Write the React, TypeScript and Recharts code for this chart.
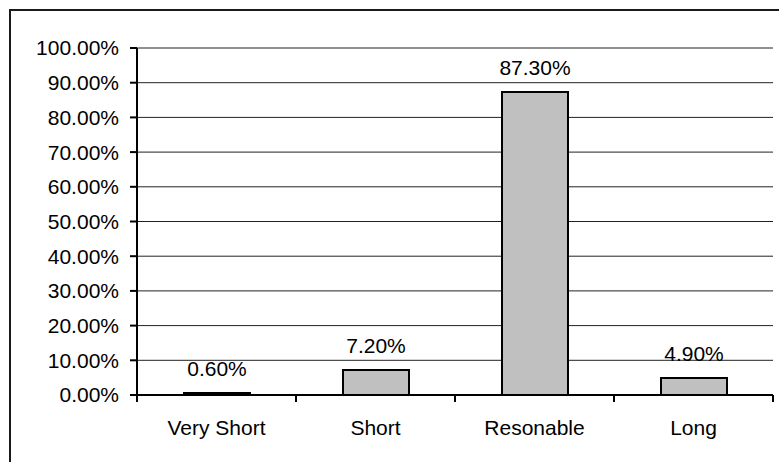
import { Bar, BarChart, CartesianGrid, LabelList, XAxis, YAxis } from 'recharts';

const categories = ['Very Short', 'Short', 'Resonable', 'Long'];
const shares = [0.6, 7.2, 87.3, 4.9];
const yTicks = [0, 10, 20, 30, 40, 50, 60, 70, 80, 90, 100];

const data = categories.map((name, i) => ({ name, value: shares[i] }));

const fontFamily = '"Liberation Sans", Arial, sans-serif';
const pct = (v: number | string) => `${Number(v).toFixed(2)}%`;

// Excel-style category axis: tick marks sit between categories, label centered
const CategoryTick = (props: any) => {
    const { x, y, payload, index } = props;
    const half = payload?.offset ?? 0;
    const last = index === categories.length - 1;
    return (
        <g>
            <line x1={x - half} x2={x - half} y1={y} y2={y + 7} stroke="#000" strokeWidth={2} />
            {last && (
                <line x1={x + half} x2={x + half} y1={y} y2={y + 7} stroke="#000" strokeWidth={2} />
            )}
            <text x={x} y={y + 40} textAnchor="middle" fill="#000" fontSize={21}>
                {payload.value}
            </text>
        </g>
    );
};

export default function App() {
    return (
        <div
            style={{
                position: 'absolute',
                left: 0,
                top: 0,
                width: 779,
                height: 462,
                overflow: 'hidden',
                background: '#fff',
                fontFamily,
            }}
        >
            <div
                style={{
                    position: 'absolute',
                    left: 9,
                    top: 9,
                    width: 800,
                    height: 500,
                    border: '2px solid #1a1a1a',
                    boxSizing: 'border-box',
                }}
            />
            <BarChart
                width={779}
                height={462}
                data={data}
                margin={{ top: 48, right: 6, bottom: 0, left: 0 }}
                style={{ position: 'absolute', left: 0, top: 0 }}
            >
                <CartesianGrid vertical={false} stroke="#222" strokeWidth={1} />
                <XAxis
                    dataKey="name"
                    height={67}
                    tickSize={0}
                    tickMargin={0}
                    tickLine={false}
                    axisLine={{ stroke: '#000', strokeWidth: 2 }}
                    tick={<CategoryTick />}
                    interval={0}
                />
                <XAxis
                    xAxisId="top"
                    orientation="top"
                    dataKey="name"
                    height={0}
                    tick={false}
                    tickLine={false}
                    axisLine={{ stroke: '#333', strokeWidth: 2 }}
                />
                <YAxis
                    width={137}
                    domain={[0, 100]}
                    ticks={yTicks}
                    tickFormatter={pct}
                    tickSize={7}
                    tickMargin={11}
                    tickLine={{ stroke: '#000', strokeWidth: 2 }}
                    axisLine={{ stroke: '#000', strokeWidth: 2 }}
                    tick={{ fill: '#000', fontSize: 21 }}
                    interval={0}
                />
                <YAxis
                    yAxisId="right"
                    orientation="right"
                    width={0}
                    domain={[0, 100]}
                    tick={false}
                    tickLine={false}
                    axisLine={{ stroke: '#333', strokeWidth: 2 }}
                />
                <Bar
                    dataKey="value"
                    fill="#c0c0c0"
                    stroke="#000"
                    strokeWidth={2}
                    barSize={66}
                    isAnimationActive={false}
                >
                    <LabelList
                        dataKey="value"
                        position="top"
                        offset={17}
                        formatter={pct}
                        fill="#000"
                        fontSize={21}
                    />
                </Bar>
            </BarChart>
        </div>
    );
}
